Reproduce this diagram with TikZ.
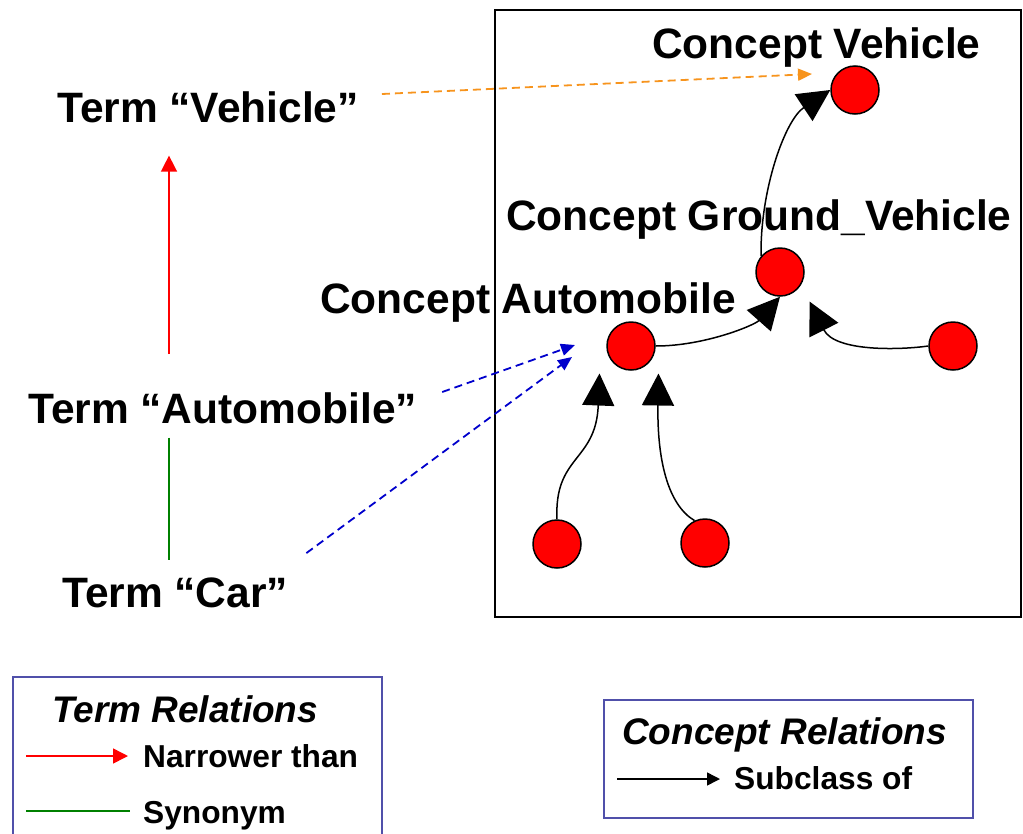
\documentclass[tikz,border=0pt]{standalone}
\usepackage{fontspec}
\setmainfont{Liberation Sans}
\usetikzlibrary{arrows.meta}
\definecolor{vehorange}{RGB}{247,148,29}
\definecolor{mapblue}{RGB}{0,0,204}
\definecolor{synogreen}{RGB}{0,128,0}
\definecolor{legendframe}{RGB}{80,80,170}
\begin{document}
\begin{tikzpicture}[x=1pt,y=-1pt,
	concept/.style={circle,draw,fill=red,line width=1.5pt,minimum size=48pt,inner sep=0pt},
	biglabel/.style={font=\bfseries\fontsize{42.5}{48}\selectfont,inner sep=0pt,anchor=base west},
	keytitle/.style={font=\bfseries\itshape\fontsize{37}{40}\selectfont,inner sep=0pt,anchor=base west},
	keyitem/.style={font=\bfseries\fontsize{31.7}{36}\selectfont,inner sep=0pt,anchor=base west},
	subclass/.style={-{Triangle[length=32pt,width=32pt]},line width=1.5pt},
	mapping/.style={-{Triangle[length=14pt,width=12pt]},dash pattern=on 8pt off 5pt,line width=1.8pt},
	legendbox/.style={draw=legendframe,line width=1.5pt}]
			\useasboundingbox (0,0) rectangle (1023,833);
			\clip (0,0) rectangle (1023,833);
			% concept space
			\draw [line width=1.5pt] (495,10) rectangle (1021,617);
			\node [concept] (cv) at (855,90) {};
			\node [concept] (cg) at (780,272) {};
			\node [concept] (ca) at (631,346) {};
			\node [concept] (cr) at (953,346) {};
			\node [concept] (cb1) at (557,544) {};
			\node [concept] (cb2) at (705,543) {};
			\node [biglabel] (lv) at (652,58) {Concept Vehicle};
			\node [biglabel] (lg) at (506,230) {Concept Ground\_Vehicle};
			\node [biglabel] (la) at (320,313) {Concept Automobile};
			\draw [subclass] (cg.140) .. controls (760,190) and (785,120) .. (cv.west);
			\draw [subclass] (ca.east) .. controls (705,346) and (755,325) .. (cg.south);
			\draw [subclass] (cr.west) .. controls (900,350) and (835,352) .. ([xshift=12pt,yshift=-12pt]cg.south east);
			\draw [subclass] (cb1.north) .. controls (554,455) and (596,462) .. ([xshift=-14pt,yshift=-10pt]ca.south west);
			\draw [subclass] (cb2.115) .. controls (668,505) and (657,460) .. ([xshift=10pt,yshift=-10pt]ca.south east);
			% terms
			\node [biglabel] (tv) at (57,122) {Term “Vehicle”};
			\node [biglabel] (ta) at (28,423) {Term “Automobile”};
			\node [biglabel] (tc) at (62,607) {Term “Car”};
			\draw [-{Triangle[length=16pt,width=16pt]},red,line width=1.5pt,shorten <=38pt,shorten >=33pt] (ta.north -| 169,0) -- (tv.south -| 169,0);
			\draw [synogreen,line width=1.5pt,shorten <=14pt,shorten >=17pt] (ta.south -| 169,0) -- (tc.north -| 169,0);
			\coordinate (mv) at (812,74);
			\coordinate (ma1) at (575,345);
			\coordinate (ma2) at (572,357);
			\draw [mapping,vehorange] ([xshift=23pt,yshift=-3pt]tv.north east) -- (mv);
			\draw [mapping,mapblue] ([xshift=25pt]ta.north east) -- (ma1);
			\draw [mapping,mapblue] ([xshift=18pt,yshift=24pt]tc.north east) -- (ma2);
			% legends
			\draw [legendbox] (13,677) rectangle (382,850);
			\node [keytitle] (kt) at (52,722) {Term Relations};
			\draw [-{Triangle[length=15pt,width=15pt]},red,line width=1.5pt] (26,756) -- (128,756);
			\node [keyitem] (kn) at (143,767) {Narrower than};
			\draw [synogreen,line width=2pt] (26,811) -- (130,811);
			\node [keyitem] (ks) at (143,823) {Synonym};
			\draw [legendbox] (604,700) rectangle (973,818);
			\node [keytitle] (kc) at (622,744) {Concept Relations};
			\draw [-{Triangle[length=13pt,width=13pt]},line width=1.5pt] (617,779) -- (720,779);
			\node [keyitem] (kb) at (734,789) {Subclass of};
\end{tikzpicture}
\end{document}
